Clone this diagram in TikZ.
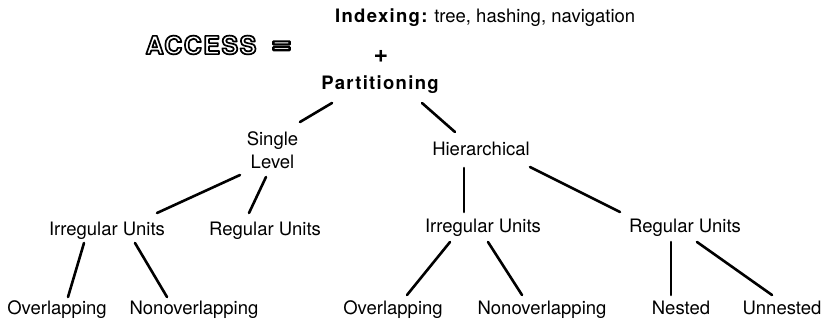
\documentclass[tikz,border=0pt]{standalone}
\usepackage{fontspec}
\setmainfont{TeX Gyre Heros}
\newfontfamily\spacedfont[LetterSpace=7]{TeX Gyre Heros}
\newfontfamily\accessfont[LetterSpace=6]{TeX Gyre Heros}
\newcommand{\outlinetext}[1]{\special{pdf:literal direct 1 Tr 1.7 w 1 j}#1\special{pdf:literal direct 0 Tr}}
\begin{document}
\begin{tikzpicture}[x=1pt,y=-1pt,
  lbl/.style={font=\fontsize{18.5}{23}\selectfont, inner sep=0pt, anchor=base},
  outl/.style={font=\fontsize{25}{29}\selectfont\accessfont\bfseries, inner sep=0pt, anchor=center},
  edge/.style={line width=2.6pt, line cap=round}]
\fill[white] (0,0) rectangle (828,321);
\useasboundingbox (0,0) rectangle (828,321);

% header
\node[lbl, anchor=base west] (idx) at (335,23) {{\spacedfont\bfseries Indexing:} tree, hashing, navigation};
\node[outl] (access) at (201,45) {\outlinetext{ACCESS}};
\node[outl] (eqsign) at (281.5,47.5) {\outlinetext{\scalebox{1.4}[1.25]{=}}};
\node[lbl, anchor=center, font=\fontsize{25}{28}\selectfont\bfseries] (plus) at (381,56) {+};

% tree
\node[lbl] (part) at (380,90) {\spacedfont\bfseries Partitioning};
\node[lbl, align=center] (single) at (272.5,168) {Single\\Level};
\node[lbl] (hier) at (481,155) {Hierarchical};
\node[lbl] (irr1) at (107,235) {Irregular Units};
\node[lbl] (reg1) at (265,235) {Regular Units};
\node[lbl] (irr2) at (483,232) {Irregular Units};
\node[lbl] (reg2) at (685,232) {Regular Units};
\node[lbl] (ov1) at (57,314) {Overlapping};
\node[lbl] (nov1) at (194,314) {Nonoverlapping};
\node[lbl] (ov2) at (393,314) {Overlapping};
\node[lbl] (nov2) at (542,314) {Nonoverlapping};
\node[lbl] (nest) at (681,314) {Nested};
\node[lbl] (unnest) at (782,314) {Unnested};

% connectors
\draw[edge] ([shift={(-48,13)}]part.base) -- ([shift={(27.5,-46)}]single.base);
\draw[edge] ([shift={(42,13)}]part.base) -- ([shift={(-26,-23)}]hier.base);
\draw[edge] ([shift={(-32.5,7)}]single.base) -- ([shift={(50,-22)}]irr1.base);
\draw[edge] ([shift={(-6.5,9)}]single.base) -- ([shift={(-16,-22)}]reg1.base);
\draw[edge] ([shift={(-23,8)}]irr1.base) -- ([shift={(11,-17)}]ov1.base);
\draw[edge] ([shift={(28,8)}]irr1.base) -- ([shift={(-27,-17)}]nov1.base);
\draw[edge] ([shift={(-17,13)}]hier.base) -- ([shift={(-19,-20)}]irr2.base);
\draw[edge] ([shift={(49,12)}]hier.base) -- ([shift={(-65,-20)}]reg2.base);
\draw[edge] ([shift={(-33,10)}]irr2.base) -- ([shift={(14,-19)}]ov2.base);
\draw[edge] ([shift={(5,10)}]irr2.base) -- ([shift={(-20,-19)}]nov2.base);
\draw[edge] ([shift={(-14,10)}]reg2.base) -- ([shift={(-10,-19)}]nest.base);
\draw[edge] ([shift={(12,10)}]reg2.base) -- ([shift={(-10,-19)}]unnest.base);
\end{tikzpicture}
\end{document}
